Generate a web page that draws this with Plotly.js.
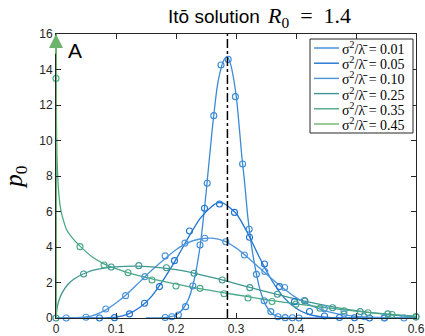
<!DOCTYPE html>
<html>
<head>
<meta charset="utf-8">
<script src="https://cdn.plot.ly/plotly-3.0.1.min.js"></script>
<style>html,body{margin:0;padding:0;background:#fff;}#chart{width:425px;height:336px;}</style>
</head>
<body>
<div id="chart"></div>
<script>
// ---- data ----
const R0 = 1.4;
const xStar = 1 - 1 / R0;
const seriesNames = ["0.01", "0.05", "0.10", "0.25", "0.35", "0.45"];
const seriesColors = ["#3a8ad6", "#1f74d0", "#4b94da", "#3f9792", "#4aa886", "#6cb46e"];

// theoretical curves (lines)
const line001x = [0.15, 0.17, 0.18, 0.19, 0.20, 0.21, 0.22, 0.23, 0.24, 0.25, 0.26, 0.27, 0.28, 0.285, 0.29, 0.30, 0.31, 0.314, 0.32, 0.33, 0.34, 0.35, 0.36, 0.37, 0.38, 0.40, 0.6];
const line001y = [0, 0.01, 0.02, 0.06, 0.17, 0.45, 1.0, 2.1, 4.0, 7.0, 10.5, 13.3, 14.55, 14.7, 14.4, 12.6, 9.0, 7.77, 5.6, 3.2, 1.6, 0.7, 0.25, 0.08, 0.02, 0, 0];

const line005x = [0, 0.06, 0.08, 0.10, 0.12, 0.14, 0.16, 0.18, 0.20, 0.22, 0.24, 0.26, 0.27, 0.28, 0.30, 0.32, 0.34, 0.36, 0.38, 0.40, 0.42, 0.44, 0.46, 0.50, 0.6];
const line005y = [0, 0, 0.01, 0.05, 0.22, 0.6, 1.25, 2.2, 3.3, 4.5, 5.6, 6.3, 6.5, 6.45, 5.9, 4.75, 3.35, 2.1, 1.15, 0.55, 0.22, 0.08, 0.02, 0, 0];

const line010x = [0, 0.02, 0.04, 0.06, 0.08, 0.10, 0.12, 0.14, 0.16, 0.18, 0.20, 0.22, 0.24, 0.26, 0.28, 0.30, 0.32, 0.34, 0.36, 0.38, 0.40, 0.42, 0.44, 0.46, 0.48, 0.50, 0.52, 0.55, 0.6];
const line010y = [0, 0, 0.03, 0.12, 0.4, 0.85, 1.4, 2.05, 2.7, 3.3, 3.85, 4.25, 4.45, 4.5, 4.35, 3.95, 3.4, 2.8, 2.2, 1.65, 1.15, 0.78, 0.5, 0.3, 0.17, 0.09, 0.05, 0.02, 0];

const line025x = [0, 0.002, 0.005, 0.01, 0.02, 0.03, 0.05, 0.07, 0.10, 0.13, 0.16, 0.20, 0.24, 0.28, 0.32, 0.36, 0.40, 0.44, 0.48, 0.52, 0.56, 0.6];
const line025y = [0, 0.6, 1.0, 1.4, 1.9, 2.2, 2.55, 2.75, 2.88, 2.92, 2.88, 2.72, 2.45, 2.12, 1.75, 1.4, 1.07, 0.77, 0.52, 0.32, 0.17, 0.06];

const line035x = [0.0002, 0.0005, 0.001, 0.002, 0.004, 0.007, 0.01, 0.018, 0.03, 0.04, 0.06, 0.08, 0.10, 0.12, 0.16, 0.20, 0.24, 0.28, 0.32, 0.36, 0.40, 0.44, 0.48, 0.52, 0.56, 0.6];
const line035y = [16, 12.5, 10.4, 8.7, 7.3, 6.3, 5.8, 4.96, 4.4, 4.05, 3.45, 3.05, 2.78, 2.55, 2.2, 1.92, 1.65, 1.42, 1.2, 0.98, 0.8, 0.62, 0.46, 0.32, 0.2, 0.1];

// delta mass at zero for 0.45
const line045x = [0, 0];
const line045y = [0, 16];

// simulation points (markers)
const pts001x = [0.182, 0.193, 0.204, 0.216, 0.228, 0.240, 0.252, 0.263, 0.275, 0.287, 0.299, 0.311, 0.322, 0.334, 0.347, 0.358, 0.370, 0.382, 0.394, 0.405];
const pts001y = [0.03, 0.07, 0.17, 0.64, 1.80, 4.11, 7.59, 11.4, 14.25, 14.57, 12.47, 8.68, 5.0, 2.46, 0.97, 0.36, 0.07, 0.02, 0.01, 0];

const pts005x = [0.0725, 0.0975, 0.1225, 0.1475, 0.1725, 0.1975, 0.2225, 0.2475, 0.2725, 0.2975, 0.3225, 0.3475, 0.3725, 0.3975, 0.4225, 0.4475, 0.4725, 0.4975, 0.5225, 0.5475];
const pts005y = [0, 0.02, 0.23, 0.83, 1.77, 3.23, 4.9, 6.18, 6.42, 5.95, 4.55, 3.04, 1.77, 0.92, 0.37, 0.11, 0.03, 0.01, 0, 0];

const pts010x = [0.017, 0.050, 0.083, 0.116, 0.148, 0.182, 0.215, 0.248, 0.283, 0.314, 0.348, 0.381, 0.414, 0.447, 0.480, 0.514, 0.547, 0.580];
const pts010y = [0, 0.04, 0.51, 1.26, 2.33, 3.50, 4.22, 4.49, 4.30, 3.55, 2.62, 1.72, 0.98, 0.52, 0.22, 0.07, 0.02, 0];

const pts025x = [0, 0.046, 0.092, 0.138, 0.184, 0.230, 0.277, 0.323, 0.369, 0.415, 0.461, 0.507, 0.553, 0.600];
const pts025y = [0, 2.48, 2.87, 2.95, 2.83, 2.52, 2.14, 1.71, 1.34, 0.96, 0.58, 0.36, 0.23, 0.05];

const pts035x = [0, 0.04, 0.08, 0.12, 0.16, 0.20, 0.24, 0.28, 0.32, 0.36, 0.40, 0.44, 0.48, 0.52, 0.56, 0.60];
const pts035y = [13.5, 4.02, 2.99, 2.55, 2.14, 1.80, 1.67, 1.37, 1.13, 0.93, 0.78, 0.55, 0.41, 0.30, 0.20, 0.08];

// ---- build ----
const linesX = [line001x, line005x, line010x, line025x, line035x, line045x];
const linesY = [line001y, line005y, line010y, line025y, line035y, line045y];
const ptsX = [pts001x, pts005x, pts010x, pts025x, pts035x];
const ptsY = [pts001y, pts005y, pts010y, pts025y, pts035y];

const traces = [];
for (let i = 0; i < 6; i++) {
  traces.push({
    x: linesX[i], y: linesY[i], type: 'scatter', mode: 'lines',
    line: {color: seriesColors[i], width: i === 5 ? 2 : 1.3, shape: i === 5 ? 'linear' : 'spline', smoothing: 0.7},
    showlegend: false, cliponaxis: i !== 5, hoverinfo: 'skip'
  });
}
for (let i = 0; i < 5; i++) {
  traces.push({
    x: ptsX[i], y: ptsY[i], type: 'scatter', mode: 'markers',
    marker: {symbol: 'circle-open', size: 6, color: seriesColors[i], line: {width: 1.1, color: seriesColors[i]}},
    showlegend: false, cliponaxis: false, hoverinfo: 'skip'
  });
}
// threshold line at 1 - 1/R0
traces.push({
  x: [xStar, xStar], y: [0, 16], type: 'scatter', mode: 'lines',
  line: {color: '#000', width: 1.5, dash: 'dashdot'}, showlegend: false, hoverinfo: 'skip'
});

// ---- layout geometry (pixels) ----
const W = 425, H = 336, ML = 56, MR = 9, MT = 34, MB = 18;
const PW = W - ML - MR, PH = H - MT - MB;
const px = v => (v - ML) / PW;       // pixel x -> paper
const py = v => (H - MB - v) / PH;   // pixel y -> paper

const axisCommon = {
  showgrid: false, zeroline: false, showline: true, linecolor: '#262626', linewidth: 1,
  mirror: 'ticks', ticks: 'inside', ticklen: 5, tickwidth: 1, tickcolor: '#262626',
  tickfont: {family: 'Liberation Sans, Arial, sans-serif', size: 12, color: '#262626'}
};

// custom legend (box, line samples, labels)
const legBox = {x0: 310, x1: 413, y0: 39, y1: 133};
const legRow0 = 48, legStep = 15.2;
const shapes = [{
  type: 'rect', xref: 'paper', yref: 'paper',
  x0: px(legBox.x0), x1: px(legBox.x1), y0: py(legBox.y1), y1: py(legBox.y0),
  line: {color: '#262626', width: 1}, fillcolor: '#fff', layer: 'above'
}];
const annotations = [];
for (let i = 0; i < seriesNames.length; i++) {
  const yy = legRow0 + i * legStep;
  shapes.push({type: 'line', xref: 'paper', yref: 'paper', x0: px(314), x1: px(339), y0: py(yy), y1: py(yy),
    line: {color: seriesColors[i], width: 1.4}, layer: 'above'});
  annotations.push({text: 'σ<sup>2</sup>/λ̄ = ' + seriesNames[i], xref: 'paper', yref: 'paper',
    x: px(340), y: py(yy), xanchor: 'left', yanchor: 'middle', showarrow: false,
    font: {family: 'Liberation Serif, DejaVu Serif, serif', size: 14, color: '#000'}});
}
annotations.push({text: 'A', xref: 'paper', yref: 'paper', x: px(66), y: py(37), xanchor: 'left', yanchor: 'top', showarrow: false,
  font: {family: 'Liberation Sans, Arial, sans-serif', size: 21, color: '#000'}});
annotations.push({text: '<i>R</i><sub>0</sub>\u2002=\u20021.4', xref: 'paper', yref: 'paper', x: px(265), y: py(17), xanchor: 'left', yanchor: 'middle',
  showarrow: false, font: {family: 'Liberation Serif, DejaVu Serif, serif', size: 22, color: '#000'}});
annotations.push({x: line045x[1], y: line045y[1], ax: line045x[0], ay: line045y[1] - 1.2, xref: 'x', yref: 'y', axref: 'x', ayref: 'y',
  text: '', showarrow: true, arrowhead: 2, arrowsize: 1.4, arrowwidth: 2, arrowcolor: seriesColors[5]});

const layout = {
  width: W, height: H,
  margin: {l: ML, r: MR, t: MT, b: MB},
  paper_bgcolor: '#fff', plot_bgcolor: '#fff',
  showlegend: false,
  title: {
    text: 'Itō solution',
    font: {family: 'Liberation Sans, Arial, sans-serif', size: 19, color: '#000'},
    x: 168 / W, xanchor: 'left', xref: 'container', y: 1 - 16 / H, yanchor: 'middle', yref: 'container'
  },
  xaxis: Object.assign({}, axisCommon, {range: [0, 0.6], dtick: 0.1, tick0: 0}),
  yaxis: Object.assign({}, axisCommon, {
    range: [0, 16], dtick: 2, tick0: 0,
    title: {text: '<i>p</i><sub>0</sub>', font: {family: 'Liberation Serif, DejaVu Serif, serif', size: 25, color: '#000'}, standoff: 10}
  }),
  shapes: shapes,
  annotations: annotations
};

Plotly.newPlot('chart', traces, layout, {displayModeBar: false, staticPlot: true});
</script>
</body>
</html>
